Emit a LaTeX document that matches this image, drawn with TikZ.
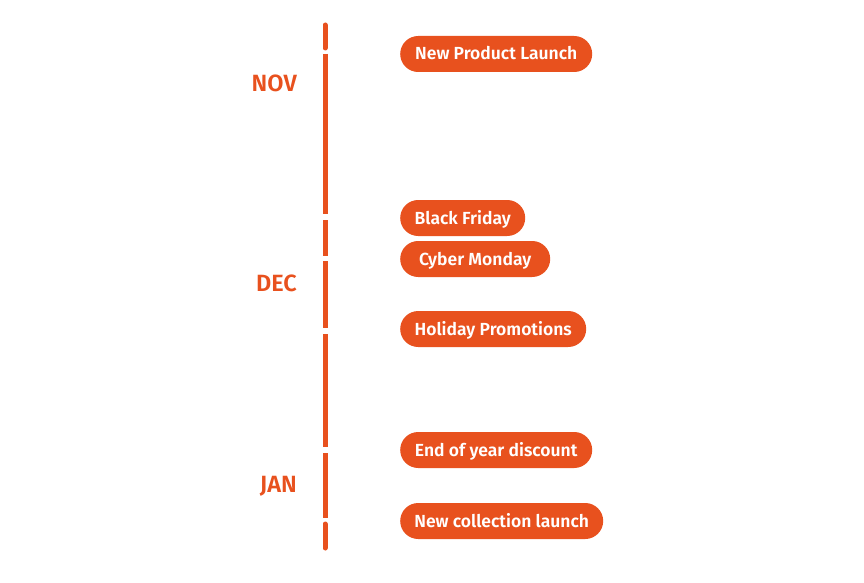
\documentclass[tikz,border=0pt]{standalone}
\usepackage{fontspec}
\setmainfont{Fira Sans}
\newfontfamily\semib{Fira Sans SemiBold}
\definecolor{accent}{RGB}{232,81,30}
\begin{document}
\begin{tikzpicture}[x=1pt,y=-1pt,
  pill/.style={fill=accent, text=white, rounded corners=18pt, minimum height=36pt,
    inner xsep=0pt, inner ysep=0pt, text height=12pt, text depth=0pt, anchor=west,
    font=\semib\fontsize{17.5}{20}\selectfont},
  month/.style={text=accent, anchor=east, inner sep=0pt, text height=16.5pt, text depth=0pt,
    font=\semib\fontsize{23.5}{28}\selectfont},
  seg/.style={draw=accent, line width=5pt}]
\useasboundingbox (0,0) rectangle (864,583);
% timeline segments
\coordinate (s1a) at (325,25);  \coordinate (s1b) at (325,48);
\coordinate (s2a) at (325,54);  \coordinate (s2b) at (325,214);
\coordinate (s3a) at (325,220); \coordinate (s3b) at (325,256);
\coordinate (s4a) at (325,261); \coordinate (s4b) at (325,328);
\coordinate (s5a) at (325,334); \coordinate (s5b) at (325,447);
\coordinate (s6a) at (325,453); \coordinate (s6b) at (325,518);
\coordinate (s7a) at (325,524); \coordinate (s7b) at (325,548);
\draw[seg, line cap=round] (s1a) -- (s1b);
\draw[seg] (s2a) -- (s2b);
\draw[seg] (s3a) -- (s3b);
\draw[seg] (s4a) -- (s4b);
\draw[seg] (s5a) -- (s5b);
\draw[seg] (s6a) -- (s6b);
\draw[seg, line cap=round] (s7a) -- (s7b);
% months
\node[month] (nov) at (297,83) {NOV};
\node[month] (dec) at (297,283) {DEC};
\node[month] (jan) at (297,484) {JAN};
% events
\node[pill, minimum width=192pt] (e1) at (400,54) {New Product Launch};
\node[pill, minimum width=125pt] (e2) at (400,218) {Black Friday};
\node[pill, minimum width=150pt] (e3) at (400,259) {Cyber Monday};
\node[pill, minimum width=186pt] (e4) at (400,329) {Holiday Promotions};
\node[pill, minimum width=192pt] (e5) at (400,450) {End of year discount};
\node[pill, minimum width=203pt] (e6) at (400,521) {New collection launch};
\end{tikzpicture}
\end{document}
